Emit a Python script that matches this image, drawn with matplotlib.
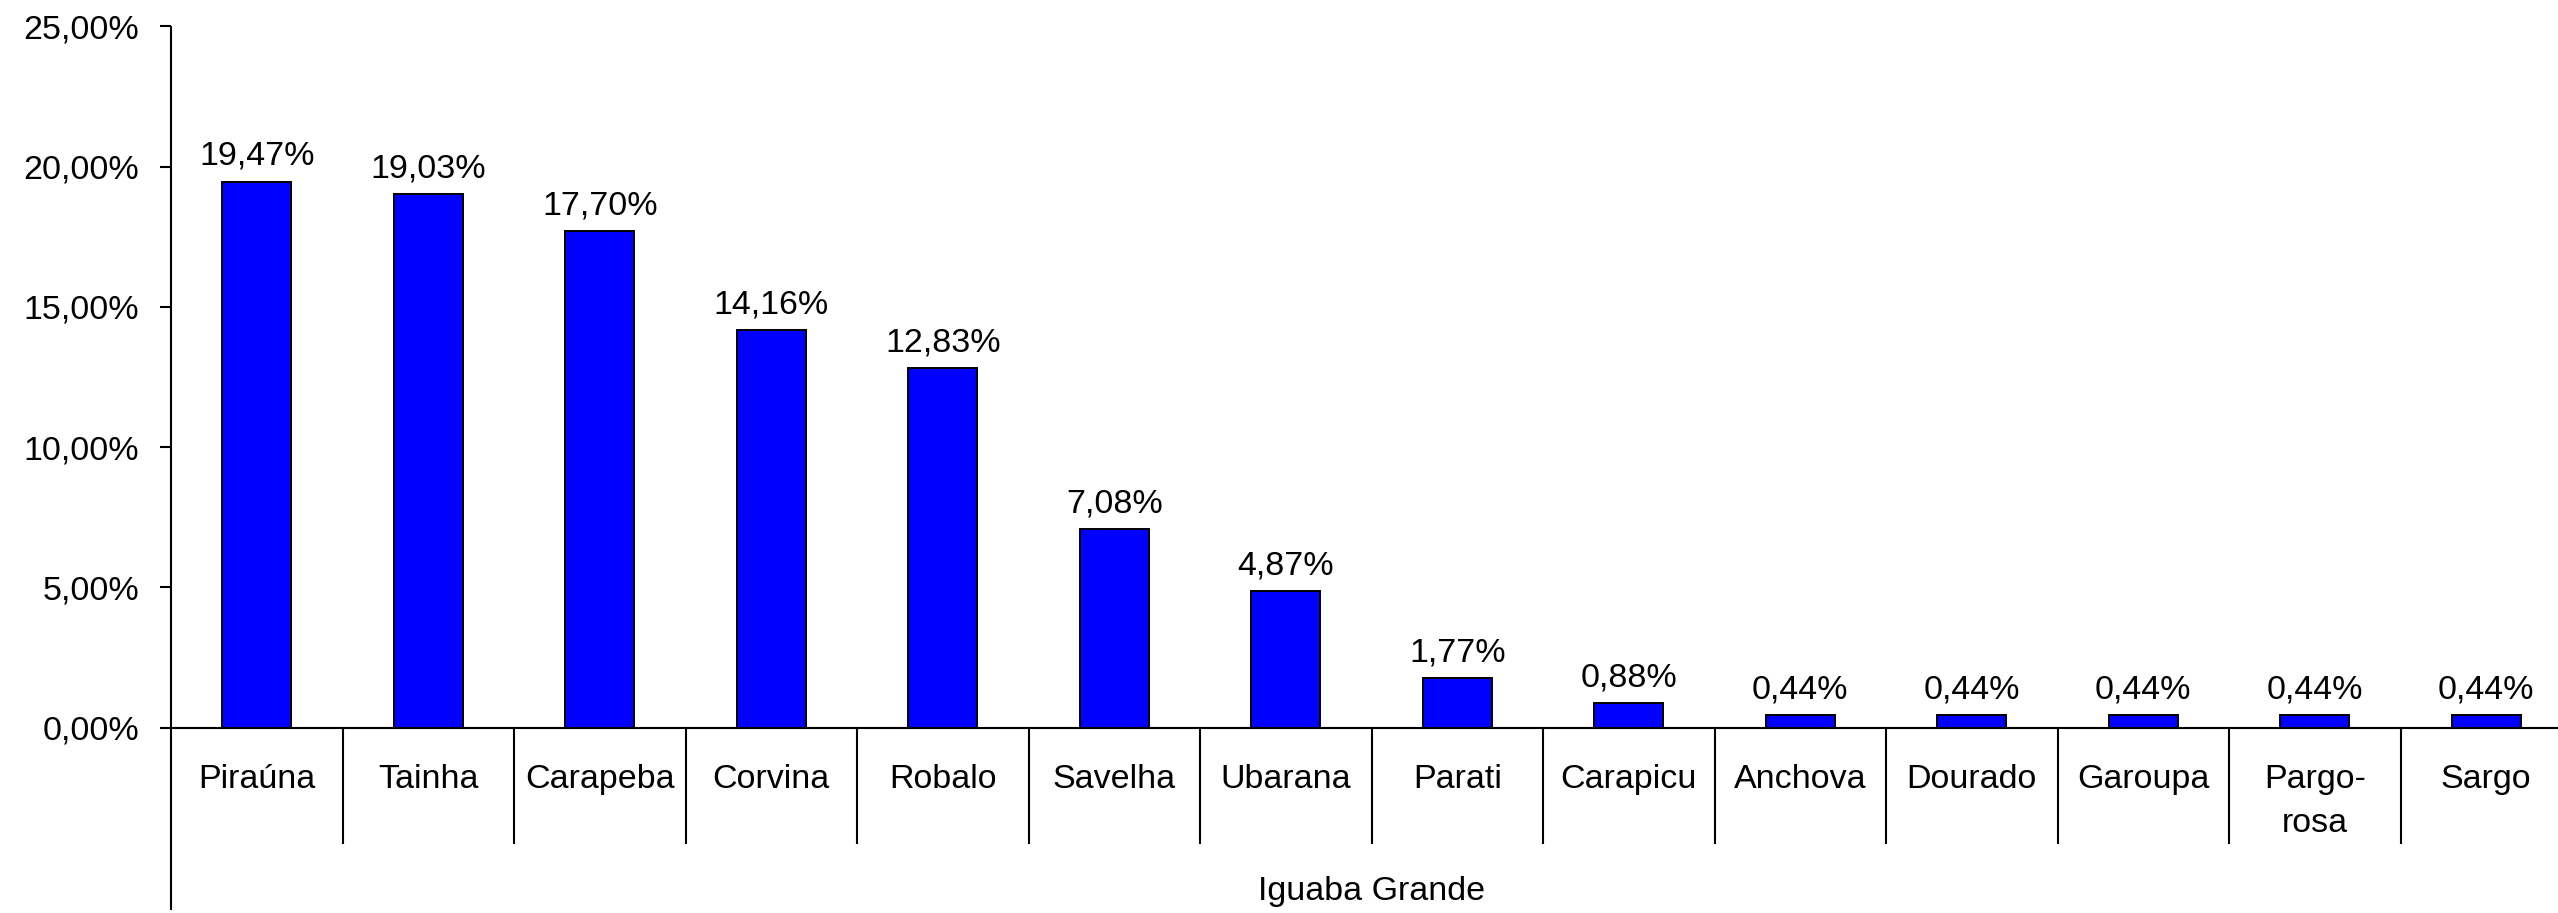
import matplotlib
matplotlib.use("Agg")
import matplotlib.pyplot as plt
import numpy as np

plt.rcParams['font.family'] = ['Liberation Sans', 'DejaVu Sans']

categories = ["Piraúna", "Tainha", "Carapeba", "Corvina", "Robalo", "Savelha",
              "Ubarana", "Parati", "Carapicu", "Anchova", "Dourado", "Garoupa",
              "Pargo-\nrosa", "Sargo"]
values = [19.47, 19.03, 17.70, 14.16, 12.83, 7.08, 4.87, 1.77, 0.88,
          0.44, 0.44, 0.44, 0.44, 0.44]
yticks = [0, 5, 10, 15, 20, 25]
group_label = "Iguaba Grande"

W, H = 2558, 913
fs = 24.5
fig = plt.figure(figsize=(W / 100, H / 100), dpi=100)
# axes runs a little past the right edge, like the original (clipped)
ax = fig.add_axes([171 / W, (H - 727.5) / H, 2401 / W, 701 / H])

x = np.arange(len(categories))
bars = ax.bar(x, values, width=0.4, color="#0000ff", edgecolor="black", linewidth=1.4)

lbls = [("%.2f%%" % v).replace(".", ",") for v in values]
ax.bar_label(bars, labels=lbls, padding=7, fontsize=fs)

ax.set_xlim(-0.5, len(categories) - 0.5)
ax.set_ylim(0, 25)
ax.set_yticks(yticks)
ax.set_yticklabels([("%.2f%%" % v).replace(".", ",") for v in yticks], fontsize=fs)
ax.tick_params(axis="y", direction="out", length=8, width=1.5, pad=15)

ax.set_xticks(x)
ax.set_xticklabels(categories, fontsize=fs, linespacing=1.55)
ax.tick_params(axis="x", length=0, pad=26)

for s in ["top", "right", "left"]:
    ax.spines[s].set_visible(False)
ax.spines["bottom"].set_linewidth(1.5)

# value axis line, running down past the category area
ax.plot([0, 0], [-0.26, 1], transform=ax.transAxes, color="black", lw=1.5,
        clip_on=False, solid_capstyle="butt")

# separators between categories
bounds = np.arange(len(categories) + 1) - 0.5
ax.vlines(bounds[1:], -0.1655, 0, transform=ax.get_xaxis_transform(),
          colors="black", lw=1.5, clip_on=False)

ax.text(0.5, -0.212, group_label, transform=ax.transAxes, ha="center", va="top",
        fontsize=fs)

fig.savefig("out.png", dpi=100)
